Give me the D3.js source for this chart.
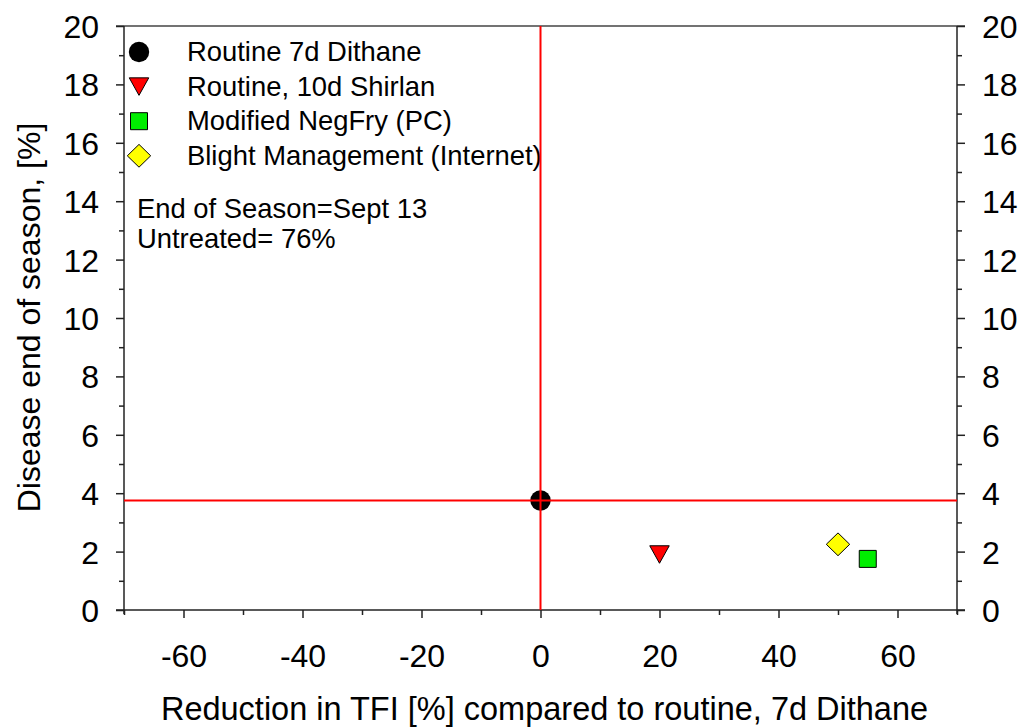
<!DOCTYPE html>
<html>
<head>
<meta charset="utf-8">
<script src="https://cdn.jsdelivr.net/npm/d3@7"></script>
<style>
  html, body { margin: 0; padding: 0; background: #fff; }
  svg { display: block; }
  text { font-family: "Liberation Sans", Arial, sans-serif; fill: #000; }
</style>
</head>
<body>
<svg id="chart" width="1020" height="727"></svg>
<script>
// ---- data ----
const seriesNames = ["Routine 7d Dithane", "Routine, 10d Shirlan", "Modified NegFry (PC)", "Blight Management (Internet)"];
const xValues = [0, 20, 55, 50];
const yValues = [3.75, 1.9, 1.75, 2.25];
const refX = 0;        // vertical reference line
const refY = 3.75;     // horizontal reference line
const xTickValues = [-60, -40, -20, 0, 20, 40, 60];
const xMinorTicks = [-70, -50, -30, -10, 10, 30, 50, 70];
const yTickValues = [0, 2, 4, 6, 8, 10, 12, 14, 16, 18, 20];
const yMinorTicks = [1, 3, 5, 7, 9, 11, 13, 15, 17, 19];
const annotations = ["End of Season=Sept 13", "Untreated= 76%"];
const xTitle = "Reduction in TFI [%] compared to routine, 7d Dithane";
const yTitle = "Disease end of season, [%]";

// ---- styles ----
const markerStyles = [
  { shape: "circle", fill: "#000000" },
  { shape: "triDown", fill: "#ff0000" },
  { shape: "square", fill: "#00ee00" },
  { shape: "diamond", fill: "#ffff00" }
];

const L = 124, R = 957, T = 26, B = 610;
const svg = d3.select("#chart");

const x = d3.scaleLinear().domain([-70, 70]).range([L, R]);
const y = d3.scaleLinear().domain([0, 20]).range([B, T]);

function markerPath(shape) {
  switch (shape) {
    case "circle": return d3.symbol().type(d3.symbolCircle).size(Math.PI * 10.2 * 10.2)();
    case "triDown": { const w = 19.5, h = 17.5; return `M${-w/2},${-h/2}L${w/2},${-h/2}L0,${h/2}Z`; }
    case "square": { const s = 17; return `M${-s/2},${-s/2}h${s}v${s}h${-s}Z`; }
    case "diamond": { const a = 11.7, b = 11.4; return `M0,${-b}L${a},0L0,${b}L${-a},0Z`; }
  }
}

// top frame line
svg.append("line").attr("x1", L - 8).attr("x2", R + 8).attr("y1", T).attr("y2", T)
  .attr("stroke", "#444").attr("stroke-width", 1.5);

const fmt = d => String(d);

// axes
const xAxis = d3.axisBottom(x).tickValues(xTickValues).tickSize(8).tickPadding(9).tickFormat(fmt);
const gx = svg.append("g").attr("transform", `translate(0,${B})`).call(xAxis);
gx.select(".domain").attr("d", `M${L - 8},0H${R + 8}`);
const gxm = svg.append("g").attr("transform", `translate(0,${B})`)
  .call(d3.axisBottom(x).tickValues(xMinorTicks).tickSize(5).tickFormat(""));
gxm.select(".domain").remove();

const yAxisL = d3.axisLeft(y).tickValues(yTickValues).tickSize(8).tickPadding(17).tickFormat(fmt);
const gyl = svg.append("g").attr("transform", `translate(${L},0)`).call(yAxisL);
gyl.select(".domain").attr("d", `M0,${B + 4}V${T}`);
const gylm = svg.append("g").attr("transform", `translate(${L},0)`)
  .call(d3.axisLeft(y).tickValues(yMinorTicks).tickSize(5).tickFormat(""));
gylm.select(".domain").remove();

const yAxisR = d3.axisRight(y).tickValues(yTickValues).tickSize(8).tickPadding(17).tickFormat(fmt);
const gyr = svg.append("g").attr("transform", `translate(${R},0)`).call(yAxisR);
gyr.select(".domain").attr("d", `M0,${B + 4}V${T}`);
const gyrm = svg.append("g").attr("transform", `translate(${R},0)`)
  .call(d3.axisRight(y).tickValues(yMinorTicks).tickSize(5).tickFormat(""));
gyrm.select(".domain").remove();

svg.selectAll(".domain").attr("stroke", "#222").attr("stroke-width", 1.5);
svg.selectAll(".tick line").attr("stroke", "#222").attr("stroke-width", 1.5);
svg.selectAll(".tick text").style("font-size", "32px")
  .style("font-family", "'Liberation Sans', Arial, sans-serif").attr("fill", "#000");
gx.selectAll(".tick text").attr("dy", null).attr("y", 57);
gyl.selectAll(".tick text").attr("dy", "0.36em");
gyr.selectAll(".tick text").attr("dy", "0.36em");

// axis titles
svg.append("text").attr("x", (L + R) / 2 + 4).attr("y", 720)
  .attr("text-anchor", "middle").style("font-size", "32.5px").text(xTitle);
svg.append("text").attr("transform", `translate(40,${(122 + 513) / 2}) rotate(-90)`)
  .attr("text-anchor", "middle").style("font-size", "32px").text(yTitle);

// data markers
svg.append("g").selectAll("path.pt").data(xValues.map((d, i) => ({ x: d, y: yValues[i], s: markerStyles[i] })))
  .join("path").attr("class", "pt")
  .attr("transform", d => `translate(${x(d.x)},${y(d.y)})`)
  .attr("d", d => markerPath(d.s.shape))
  .attr("fill", d => d.s.fill)
  .attr("stroke", "#000").attr("stroke-width", d => d.s.shape === "circle" ? 0 : 1);

// legend
const leg = svg.append("g");
const rows = leg.selectAll("g").data(seriesNames).join("g")
  .attr("transform", (d, i) => `translate(0,${52 + i * 34.6})`);
rows.append("path").attr("transform", "translate(139,0)")
  .attr("d", (d, i) => markerPath(markerStyles[i].shape))
  .attr("fill", (d, i) => markerStyles[i].fill)
  .attr("stroke", "#000").attr("stroke-width", (d, i) => markerStyles[i].shape === "circle" ? 0 : 1);
rows.append("text").attr("x", 187).attr("y", 9).style("font-size", "27.4px").text(d => d);

// annotations
svg.append("g").selectAll("text").data(annotations).join("text")
  .attr("x", 137).attr("y", (d, i) => 218 + i * 30).style("font-size", "27.4px").text(d => d);

// reference lines (drawn on top)
svg.append("line").attr("x1", x(refX)).attr("x2", x(refX)).attr("y1", T).attr("y2", B)
  .attr("stroke", "#ff0000").attr("stroke-width", 2);
svg.append("line").attr("x1", L).attr("x2", R).attr("y1", y(refY)).attr("y2", y(refY))
  .attr("stroke", "#ff0000").attr("stroke-width", 2);
</script>
</body>
</html>
